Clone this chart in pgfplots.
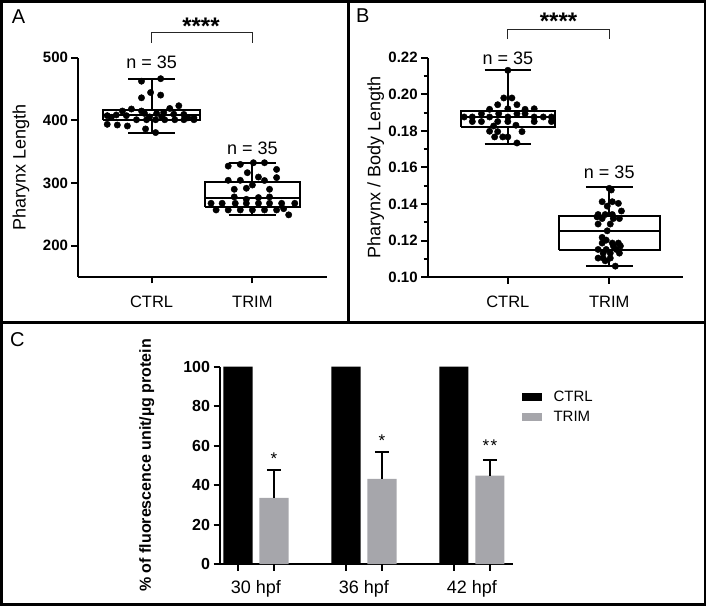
\documentclass[border=0pt]{standalone}
\usepackage{fontspec}
\setmainfont{Liberation Sans}
\usepackage{pgfplots}
\pgfplotsset{compat=1.18}
\definecolor{trimgrey}{RGB}{166,166,171}
\newcommand\fs[1]{\fontsize{#1bp}{#1bp}\selectfont}

\tikzset{tk/.style={line width=2bp, black}}
\pgfplotsset{
  panel/.style={
    scale only axis,
    axis x line*=bottom,
    axis y line*=left,
    axis line style={line width=2bp, -},
    xtick align=outside, ytick align=outside,
    tick style={line width=2bp, black},
    major tick length=6.5bp,
    minor tick length=4bp,
    /pgf/number format/assume math mode=true,
    yticklabel style={font=\fs{15}\bfseries},
    clip=false,
    unbounded coords=jump,
  },
  dots/.style={only marks, mark=*, mark size=3.2bp, black},
  boxline/.style={black, line width=2bp, mark=none},
}

\begin{document}
\begin{tikzpicture}
% panel frames
\draw[line width=2.8bp] (1.3bp,3.3bp) rectangle (705bp,606.7bp);
\draw[line width=2.8bp] (1.3bp,285.7bp) -- (705bp,285.7bp);
\draw[line width=2.8bp] (348.3bp,285.7bp) -- (348.3bp,606.7bp);
\node[font=\fs{20}, anchor=base west, inner sep=0pt] at (11.7bp,584bp) {A};
\node[font=\fs{20}, anchor=base west, inner sep=0pt] at (356bp,585.3bp) {B};
\node[font=\fs{20}, anchor=base west, inner sep=0pt] at (10bp,261.7bp) {C};

% ---------- A ----------
\begin{axis}[panel,
  at={(78bp,331bp)}, anchor=south west,
  width=249bp, height=219.3bp,
  xmin=-0.73, xmax=1.74, ymin=150, ymax=500,
  xtick={0,1}, xticklabels={CTRL,TRIM},
  xticklabel style={font=\fs{16.5}, yshift=-9bp},
  ytick={200,300,400,500},
  ylabel={Pharynx Length},
  ylabel style={at={(axis description cs:-0.229,0.5)}, anchor=center, font=\fs{18}},
]
% CTRL box: whiskers 380.5 / 466.5, quartiles 401 / 417, median 408
\addplot[boxline] coordinates {
  (-0.48,401) (0.48,401) (0.48,417) (-0.48,417) (-0.48,401) (0,nan)
  (-0.48,408) (0.48,408) (0,nan)
  (0,417) (0,466.5) (0,nan) (-0.23,466.5) (0.23,466.5) (0,nan)
  (0,401) (0,380.5) (0,nan) (-0.23,380.5) (0.23,380.5)
};
% TRIM box: whiskers 249.2 / 332.4, quartiles 262 / 302, median 276
\addplot[boxline] coordinates {
  (0.525,262) (1.475,262) (1.475,302) (0.525,302) (0.525,262) (1,nan)
  (0.525,276) (1.475,276) (1,nan)
  (1,302) (1,332.4) (1,nan) (0.765,332.4) (1.235,332.4) (1,nan)
  (1,262) (1,249.2) (1,nan) (0.765,249.2) (1.235,249.2)
};
\addplot[dots] coordinates {
  (-0.10,462.5) (0.09,466.5) (-0.01,444.4) (-0.10,436) (0.09,440.3)
  (-0.29,414.9) (-0.20,418.1) (-0.10,414.9) (0.18,419) (0.27,423.3)
  (-0.07,411) (0.05,411) (0.12,412.7)
  (-0.44,407.5) (-0.35,408.6) (-0.25,407.5) (0.32,409.5)
  (-0.15,401) (-0.05,401) (0.04,401) (0.13,401) (0.23,401) (0.32,401) (0.42,401)
  (0.42,404)
  (-0.44,393.7) (-0.34,392.6) (-0.24,391)
  (-0.06,386.3) (0.04,380.5)
  (-0.40,405) (-0.02,405.5) (0.22,410) (0.36,404) (0.10,406)
};
\addplot[dots] coordinates {
  (0.76,327) (0.88,329.7) (1.01,332.4) (1.12,332.4) (1.24,321.7)
  (0.95,316.5) (1.06,309.5) (1.24,308.6) (0.76,304.3) (0.88,304.3) (1.12,304)
  (1.00,296.8)
  (0.82,290) (0.94,291.6) (1.17,290)
  (0.82,277.8) (0.94,274) (1.06,276.8) (1.17,277.8)
  (0.59,267.6) (0.70,267.6) (0.83,267.6) (0.94,267.6) (1.06,267.6) (1.17,267.6) (1.29,267.6) (1.42,267.6)
  (0.64,257) (0.76,257) (0.88,257) (1.00,257) (1.12,257) (1.24,257) (1.31,259)
  (1.36,249.2)
};
\pgfplotsinvokeforeach{0,1}{\draw[tk] (axis cs:#1,150) -- ++(0bp,-6.5bp);}
\pgfplotsinvokeforeach{200,300,400,500}{\draw[tk] (axis cs:-0.73,#1) -- ++(-6.5bp,0bp);}
\node[font=\fs{18}] at (axis cs:0,492) {n = 35};
\node[font=\fs{18}] at (axis cs:1,355.4) {n = 35};
\draw[line width=1.1bp, black!85] (axis cs:0,523.9) -- (axis cs:0,540.5) -- (axis cs:1,540.5) -- (axis cs:1,523.9);
\node[font=\fs{24}\bfseries, anchor=base] at (axis cs:0.49,537.3) {****};
\end{axis}

% ---------- B ----------
\begin{axis}[panel,
  at={(427.7bp,330.7bp)}, anchor=south west,
  width=255.6bp, height=219.6bp,
  xmin=-0.79, xmax=1.73, ymin=0.10, ymax=0.22,
  xtick={0,1}, xticklabels={CTRL,TRIM},
  xticklabel style={font=\fs{16.5}, yshift=-9bp},
  ytick={0.10,0.12,0.14,0.16,0.18,0.20,0.22}, minor y tick num=1,
  yticklabel style={/pgf/number format/.cd, fixed, fixed zerofill, precision=2},
  ylabel={Pharynx / Body Length},
  ylabel style={at={(axis description cs:-0.2034,0.5)}, anchor=center, font=\fs{18}},
]
% CTRL box: whiskers 0.1729 / 0.2131, quartiles 0.182 / 0.1909, median 0.1875
\addplot[boxline] coordinates {
  (-0.465,0.182) (0.465,0.182) (0.465,0.1909) (-0.465,0.1909) (-0.465,0.182) (0,nan)
  (-0.465,0.1875) (0.465,0.1875) (0,nan)
  (0,0.1909) (0,0.2131) (0,nan) (-0.23,0.2131) (0.23,0.2131) (0,nan)
  (0,0.182) (0,0.1729) (0,nan) (-0.23,0.1729) (0.23,0.1729)
};
% TRIM box: whiskers 0.1064 / 0.1491, quartiles 0.1151 / 0.1335, median 0.1251
\addplot[boxline] coordinates {
  (0.5,0.1151) (1.5,0.1151) (1.5,0.1335) (0.5,0.1335) (0.5,0.1151) (1,nan)
  (0.5,0.1251) (1.5,0.1251) (1,nan)
  (1,0.1335) (1,0.1491) (1,nan) (0.77,0.1491) (1.23,0.1491) (1,nan)
  (1,0.1151) (1,0.1064) (1,nan) (0.77,0.1064) (1.23,0.1064)
};
\addplot[dots] coordinates {
  (0,0.2131)
  (-0.04,0.198) (0.04,0.198)
  (-0.10,0.1943) (0.09,0.1943)
  (-0.18,0.1918) (0,0.1921) (0.17,0.1918) (0.26,0.1921)
  (-0.26,0.1894) (-0.09,0.1894) (0.09,0.1894) (0.17,0.1894)
  (-0.43,0.1876) (-0.35,0.1876) (-0.18,0.1876) (0,0.1876) (0.26,0.1876) (0.35,0.1876) (0.43,0.1876)
  (-0.35,0.1851) (-0.26,0.1851) (-0.10,0.1851) (0,0.1851) (0.26,0.1851) (0.43,0.1851)
  (-0.14,0.1827) (0.08,0.1831)
  (-0.18,0.1798) (-0.10,0.1796) (0.14,0.1796)
  (-0.13,0.1767) (-0.05,0.1767) (0,0.1767)
  (0.09,0.1734)
};
\addplot[dots] coordinates {
  (1.00,0.1486) (1.02,0.1477)
  (0.93,0.1413) (1.03,0.1413) (1.09,0.1404)
  (0.98,0.1389)
  (1.12,0.1362)
  (0.96,0.1343) (0.89,0.1343) (1.03,0.1343)
  (0.93,0.1321) (1.04,0.1321) (1.10,0.1321)
  (0.89,0.1291) (1.01,0.1291)
  (0.98,0.1254)
  (0.93,0.1218)
  (0.97,0.1203)
  (1.03,0.1187) (1.09,0.1187) (0.93,0.1187)
  (1.04,0.1171) (1.11,0.1171)
  (0.89,0.1152) (0.97,0.1152) (1.07,0.1152)
  (0.94,0.1132) (1.01,0.1132) (1.10,0.1132)
  (0.89,0.1105) (0.94,0.1105) (1.01,0.1105)
  (0.96,0.1090)
  (1.06,0.1061)
  (0.88,0.1330)
};
\pgfplotsinvokeforeach{0,1}{\draw[tk] (axis cs:#1,0.10) -- ++(0bp,-6.5bp);}
\pgfplotsinvokeforeach{0.10,0.12,0.14,0.16,0.18,0.20,0.22}{\draw[tk] (axis cs:-0.79,#1) -- ++(-6.5bp,0bp);}
\pgfplotsinvokeforeach{0.11,0.13,0.15,0.17,0.19,0.21}{\draw[tk] (axis cs:-0.79,#1) -- ++(-4bp,0bp);}
\node[font=\fs{18}] at (axis cs:0,0.2197) {n = 35};
\node[font=\fs{18}] at (axis cs:1,0.1571) {n = 35};
\draw[line width=1.1bp, black!85] (axis cs:0,0.2301) -- (axis cs:0,0.2355) -- (axis cs:1,0.2355) -- (axis cs:1,0.2301);
\node[font=\fs{24}\bfseries, anchor=base] at (axis cs:0.5,0.2352) {****};
\end{axis}

% ---------- C ----------
\begin{axis}[panel,
  at={(220bp,44bp)}, anchor=south west,
  width=293.3bp, height=197.3bp,
  xmin=-0.5, xmax=7.65, ymin=0, ymax=100,
  xtick={0.5,3.5,6.5},
  xticklabels={30 hpf,36 hpf,42 hpf},
  xticklabel style={font=\fs{18}, yshift=-6bp},
  x tick style={draw=none},
  ytick={0,20,40,60,80,100},
  yticklabel style={font=\fs{16}\bfseries},
  ylabel={\% of fluorescence unit/µg protein},
  ylabel style={at={(axis description cs:-0.25,0.5)}, anchor=center, font=\fs{16}\bfseries},
  legend style={at={(axis description cs:1.0287,0.877)}, anchor=north west,
    draw=none, fill=none, inner sep=0pt, font=\fs{15}, row sep=8bp,
    nodes={inner sep=0pt},
    /tikz/every odd column/.append style={column sep=11.6bp}},
  legend cell align=left,
]
\addplot[ybar, bar shift=0pt, bar width=0.81, fill=black, draw=none,
  legend image code/.code={\fill[black] (0bp,-4bp) rectangle (20bp,4bp);}]
  coordinates {(0,100) (3,100) (6,100)};
\addlegendentry{CTRL}
\addplot[ybar, bar shift=0pt, bar width=0.81, fill=trimgrey, draw=none,
  legend image code/.code={\fill[trimgrey] (0bp,-4bp) rectangle (20bp,4bp);},
  error bars/.cd, y dir=plus, y explicit,
  error bar style={line width=2bp, black},
  error mark options={rotate=90, line width=2bp, black, mark size=7bp}]
  coordinates {(1,33.5) +- (0,14.1) (4,43.2) +- (0,13.7) (7,44.8) +- (0,8.1)};
\addlegendentry{TRIM}
\pgfplotsinvokeforeach{0,1,3,4,6,7}{\draw[tk] (axis cs:#1,0) -- ++(0bp,-6.5bp);}
\pgfplotsinvokeforeach{0,20,40,60,80,100}{\draw[tk] (axis cs:-0.5,#1) -- ++(-6.5bp,0bp);}
\node[font=\fs{17}, anchor=base] at (axis cs:1,50.5) {*};
\node[font=\fs{17}, anchor=base] at (axis cs:4,59.7) {*};
\node[font=\fs{17}, anchor=base] at (axis cs:7,57) {*\kern1.5bp*};
\end{axis}
\pgfresetboundingbox
\path[use as bounding box] (0bp,0bp) rectangle (708bp,608bp);
\end{tikzpicture}
\end{document}
